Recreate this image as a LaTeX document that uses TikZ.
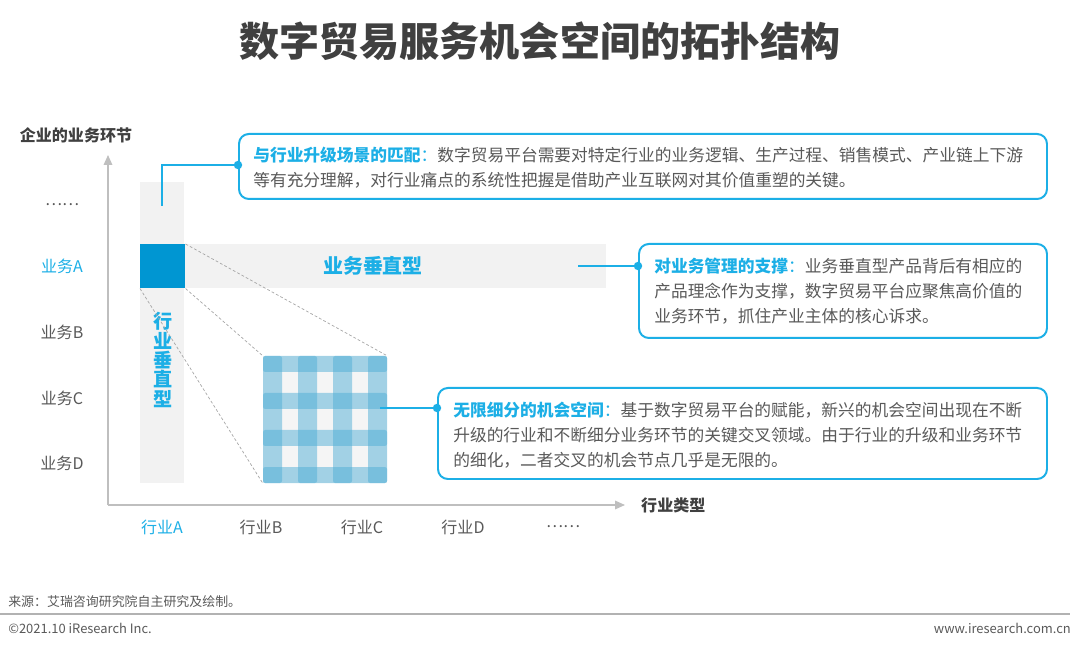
\documentclass[tikz,border=0pt]{standalone}
\usepackage{fontspec}
\setmainfont{Noto Sans CJK SC}
\usetikzlibrary{arrows.meta, positioning, calc}

\definecolor{skyblue}{HTML}{1CAFE6}
\definecolor{deepblue}{HTML}{0096D2}
\definecolor{bargray}{HTML}{F2F2F2}
\definecolor{txtgray}{HTML}{595959}
\definecolor{headgray}{HTML}{404040}
\definecolor{axisgray}{HTML}{BFBFBF}
\definecolor{cellblue}{HTML}{50AFD7}
\newcommand{\pxu}{0.025cm}

\tikzset{
  axisline/.style={draw=axisgray, line width=1.1pt, -{Triangle[length=7pt, width=6pt]}},
  axistitle/.style={text=headgray, font=\fontsize{11.4}{13}\selectfont\bfseries},
  ticklab/.style={text=txtgray, font=\fontsize{11.4}{13}\selectfont},
  callout/.style={draw=skyblue, line width=1.4pt, rounded corners=7pt, fill=white, anchor=north west, inner sep=0pt},
  calltext/.style={anchor=west, align=left, text=txtgray, inner sep=0pt, font=\fontsize{11.9}{17.8}\selectfont},
  dot/.style={circle, fill=skyblue, inner sep=0pt, minimum size=6pt},
  link/.style={draw=skyblue, line width=0.9pt},
  guide/.style={draw=gray!70, line width=0.5pt, dash pattern=on 2pt off 1.5pt},
  hl/.style={text=skyblue, font=\bfseries}
}

\begin{document}
\begin{tikzpicture}[x=0.025cm, y=-0.025cm]
\useasboundingbox (0,0) rectangle (1080,649);

% Title
\node[text=headgray, font=\fontsize{28.5}{30}\selectfont\bfseries] (title) at (540,41) {数字贸易服务机会空间的拓扑结构};

% Bars
\fill[bargray] (140,182) rectangle (184,483);
\fill[bargray] (140,244) rectangle (606,288);
\node[fill=deepblue, inner sep=0pt, minimum width=45*\pxu, minimum height=44*\pxu, anchor=north west] (sq) at (140,244) {};
\node[text=skyblue, font=\fontsize{14.2}{16}\selectfont\bfseries] (hbar) at (373,266) {业务垂直型};
\node[text=skyblue, align=center, inner sep=0pt, font=\fontsize{13.6}{13.8}\selectfont\bfseries] (vbar) at (163,360) {行\\业\\垂\\直\\型};

% Axes
\coordinate (o) at (108,505);
\coordinate (ytop) at (108,155);
\coordinate (xend) at (625,505);
\draw[axisline] (o) -- (ytop);
\draw[axisline] (o) -- (xend);
\node[axistitle] (ytitle) at (76,135) {企业的业务环节};
\node[axistitle, right=8pt of xend] (xtitle) {行业类型};

% Tick labels
\foreach \y/\label/\col in {205/……/txtgray, 266/业务A/skyblue, 332/业务B/txtgray, 398/业务C/txtgray, 463/业务D/txtgray} {
  \node[ticklab, text=\col] (r\y) at (62,\y) {\label};
}
\foreach \x/\label/\col in {162/行业A/skyblue, 261/行业B/txtgray, 362/行业C/txtgray, 463/行业D/txtgray, 563/……/txtgray} {
  \node[ticklab, text=\col] (c\x) at (\x,527) {\label};
}

% Opportunity grid
\node[fill=bargray!90!gray!40, inner sep=0pt, minimum width=124*\pxu, minimum height=127*\pxu, anchor=north west] (grid) at (263,356) {};
\foreach \i in {0,...,3} {
  \fill[cellblue, opacity=.5, rounded corners=1.5pt] (263+\i*35,356) rectangle ++(19,127);
  \fill[cellblue, opacity=.5, rounded corners=1.5pt] (263,356+\i*37) rectangle ++(124,16);
}
\draw[guide] (sq.north east) -- (grid.north east);
\draw[guide] (sq.south east) -- (grid.north west);
\draw[guide] (sq.south west) -- (grid.south west);

% Callout 1
\node[callout, minimum width=808*\pxu, minimum height=65*\pxu] (box1) at (238,133) {};
\node[dot] (d1) at (238,165) {};
\coordinate (s1) at (162,206);
\draw[link] (s1) |- (d1);
\node[calltext] (t1) at (253,167.5) {{\color{skyblue}\bfseries 与行业升级场景的匹配}{\color{skyblue}：}数字贸易平台需要对特定行业的业务逻辑、生产过程、销售模式、产业链上下游\\等有充分理解，对行业痛点的系统性把握是借助产业互联网对其价值重塑的关键。};

% Callout 2
\node[callout, minimum width=408*\pxu, minimum height=94*\pxu] (box2) at (638,243) {};
\node[dot] (d2) at (638,266) {};
\coordinate (s2) at (578,266);
\draw[link] (s2) -- (d2);
\node[calltext] (t2) at (654,291.5) {{\color{skyblue}\bfseries 对业务管理的支撑}{\color{skyblue}：}业务垂直型产品背后有相应的\\产品理念作为支撑，数字贸易平台应聚焦高价值的\\业务环节，抓住产业主体的核心诉求。};

% Callout 3
\node[callout, minimum width=609*\pxu, minimum height=91*\pxu] (box3) at (437,387) {};
\node[dot] (d3) at (437,408) {};
\coordinate (s3) at (380,408);
\draw[link] (s3) -- (d3);
\node[calltext] (t3) at (453,435) {{\color{skyblue}\bfseries 无限细分的机会空间}{\color{skyblue}：}基于数字贸易平台的赋能，新兴的机会空间出现在不断\\升级的行业和不断细分业务环节的关键交叉领域。由于行业的升级和业务环节\\的细化，二者交叉的机会节点几乎是无限的。};

% Footer
\node[anchor=west, text=txtgray, inner sep=0pt, font=\fontsize{9.2}{10}\selectfont] (src) at (8,602) {来源：艾瑞咨询研究院自主研究及绘制。};
\draw[draw=gray!60, line width=1.2pt] (0,614) -- (1070,614);
\node[anchor=west, text=txtgray, inner sep=0pt, font=\fontsize{9.2}{10}\selectfont] (copy) at (8,628) {©2021.10 iResearch Inc.};
\node[anchor=east, text=txtgray, inner sep=0pt, font=\fontsize{9.2}{10}\selectfont] (web) at (1071,628) {www.iresearch.com.cn};

\end{tikzpicture}
\end{document}
